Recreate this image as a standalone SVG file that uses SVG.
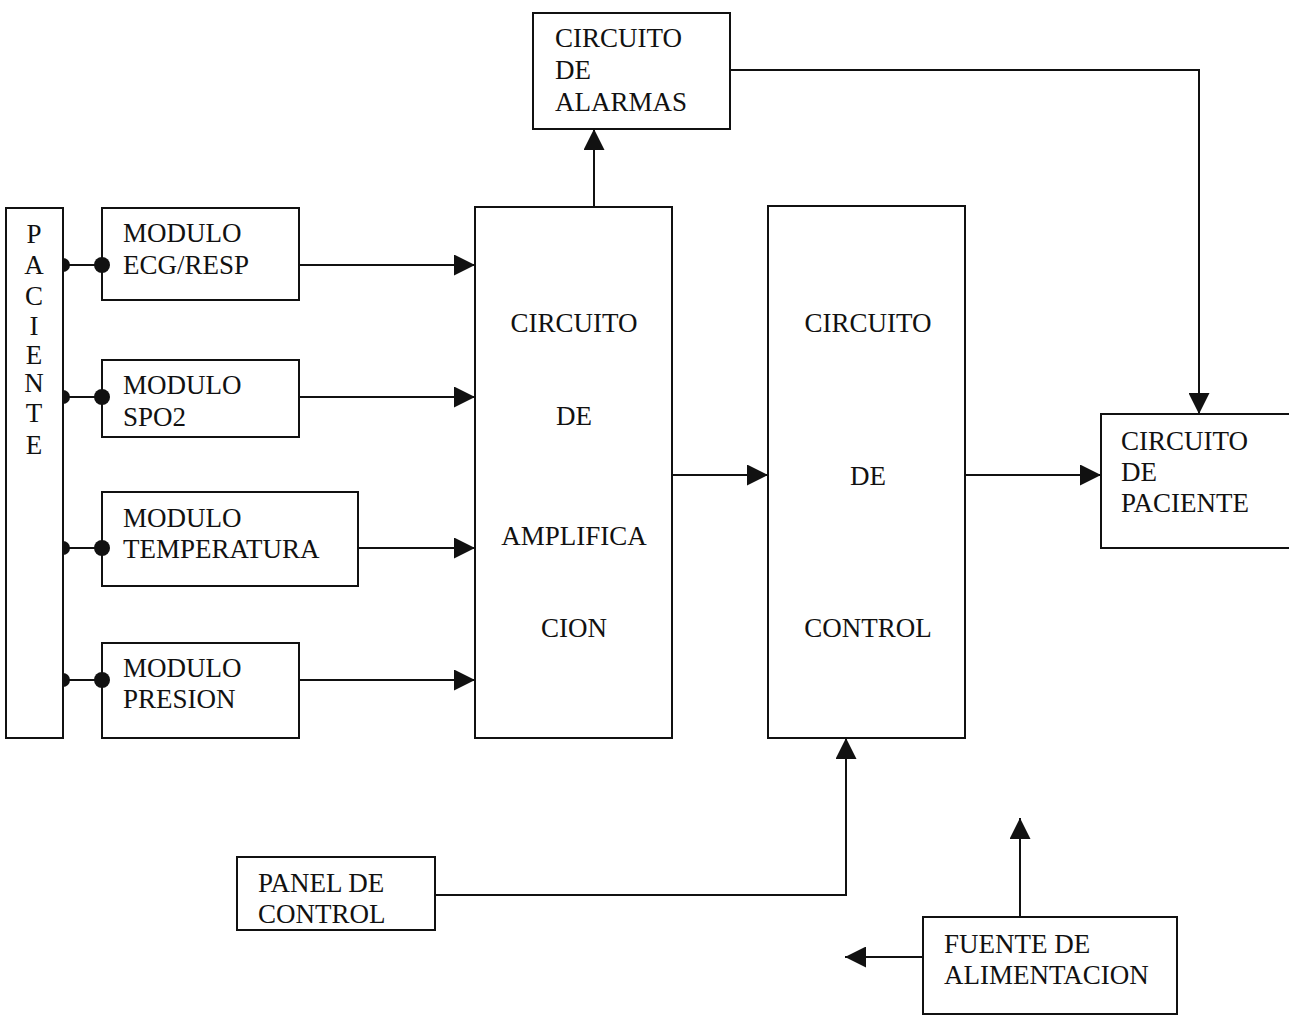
<svg xmlns="http://www.w3.org/2000/svg" width="1289" height="1016" viewBox="0 0 1289 1016">
<style>
.b{fill:none;stroke:#111;stroke-width:2}
.t{font-family:"Liberation Serif",serif;font-size:27px;fill:#111}
.c{text-anchor:middle}
.l{fill:none;stroke:#111;stroke-width:2}
.d{fill:#111}
</style>
<defs>
<marker id="a" viewBox="0 0 10 10" refX="10" refY="5" markerWidth="21" markerHeight="21" markerUnits="userSpaceOnUse" orient="auto">
<path d="M0,0 L10,5 L0,10 Z" fill="#111"/>
</marker>
</defs>
<rect width="1289" height="1016" fill="#fff"/>
<g id="paciente">
<rect class="b" x="6" y="208" width="57" height="530"/>
<text class="t c" x="34" y="243">P</text>
<text class="t c" x="34" y="274">A</text>
<text class="t c" x="34" y="305">C</text>
<text class="t c" x="34" y="335">I</text>
<text class="t c" x="34" y="364">E</text>
<text class="t c" x="34" y="392">N</text>
<text class="t c" x="34" y="422">T</text>
<text class="t c" x="34" y="454">E</text>
</g>
<g id="mod_ecg">
<rect class="b" x="102" y="208" width="197" height="92"/>
<text class="t" x="123" y="242">MODULO</text>
<text class="t" x="123" y="274">ECG/RESP</text>
</g>
<g id="mod_spo2">
<rect class="b" x="102" y="360" width="197" height="77"/>
<text class="t" x="123" y="394">MODULO</text>
<text class="t" x="123" y="426">SPO2</text>
</g>
<g id="mod_temp">
<rect class="b" x="102" y="492" width="256" height="94"/>
<text class="t" x="123" y="527">MODULO</text>
<text class="t" x="123" y="558">TEMPERATURA</text>
</g>
<g id="mod_presion">
<rect class="b" x="102" y="643" width="197" height="95"/>
<text class="t" x="123" y="677">MODULO</text>
<text class="t" x="123" y="708">PRESION</text>
</g>
<g id="amplificacion">
<rect class="b" x="475" y="207" width="197" height="531"/>
<text class="t c" x="574" y="332">CIRCUITO</text>
<text class="t c" x="574" y="425">DE</text>
<text class="t c" x="574" y="545">AMPLIFICA</text>
<text class="t c" x="574" y="637">CION</text>
</g>
<g id="control">
<rect class="b" x="768" y="206" width="197" height="532"/>
<text class="t c" x="868" y="332">CIRCUITO</text>
<text class="t c" x="868" y="485">DE</text>
<text class="t c" x="868" y="637">CONTROL</text>
</g>
<g id="alarmas">
<rect class="b" x="533" y="13" width="197" height="116"/>
<text class="t" x="555" y="47">CIRCUITO</text>
<text class="t" x="555" y="79">DE</text>
<text class="t" x="555" y="111">ALARMAS</text>
</g>
<g id="circ_paciente">
<rect class="b" x="1101" y="414" width="196" height="134"/>
<text class="t" x="1121" y="450">CIRCUITO</text>
<text class="t" x="1121" y="481">DE</text>
<text class="t" x="1121" y="512">PACIENTE</text>
</g>
<g id="panel">
<rect class="b" x="237" y="857" width="198" height="73"/>
<text class="t" x="258" y="892">PANEL DE</text>
<text class="t" x="258" y="923">CONTROL</text>
</g>
<g id="fuente">
<rect class="b" x="923" y="917" width="254" height="97"/>
<text class="t" x="944" y="953">FUENTE DE</text>
<text class="t" x="944" y="984">ALIMENTACION</text>
</g>
<g id="connectors">
<line class="l" x1="63" y1="265" x2="102" y2="265"/>
<line class="l" x1="63" y1="397" x2="102" y2="397"/>
<line class="l" x1="63" y1="548" x2="102" y2="548"/>
<line class="l" x1="63" y1="680" x2="102" y2="680"/>
<path class="d" d="M63,258 A7,7 0 0 1 63,272 Z"/><circle class="d" cx="102" cy="265" r="8"/>
<path class="d" d="M63,390 A7,7 0 0 1 63,404 Z"/><circle class="d" cx="102" cy="397" r="8"/>
<path class="d" d="M63,541 A7,7 0 0 1 63,555 Z"/><circle class="d" cx="102" cy="548" r="8"/>
<path class="d" d="M63,673 A7,7 0 0 1 63,687 Z"/><circle class="d" cx="102" cy="680" r="8"/>
<line class="l" x1="299" y1="265" x2="475" y2="265" marker-end="url(#a)"/>
<line class="l" x1="299" y1="397" x2="475" y2="397" marker-end="url(#a)"/>
<line class="l" x1="358" y1="548" x2="475" y2="548" marker-end="url(#a)"/>
<line class="l" x1="299" y1="680" x2="475" y2="680" marker-end="url(#a)"/>
<line class="l" x1="594" y1="207" x2="594" y2="129" marker-end="url(#a)"/>
<line class="l" x1="672" y1="475" x2="768" y2="475" marker-end="url(#a)"/>
<polyline class="l" points="730,70 1199,70 1199,414" marker-end="url(#a)"/>
<line class="l" x1="965" y1="475" x2="1101" y2="475" marker-end="url(#a)"/>
<polyline class="l" points="435,895 846,895 846,738" marker-end="url(#a)"/>
<line class="l" x1="1020" y1="917" x2="1020" y2="818" marker-end="url(#a)"/>
<line class="l" x1="923" y1="957" x2="845" y2="957" marker-end="url(#a)"/>
</g>
</svg>
